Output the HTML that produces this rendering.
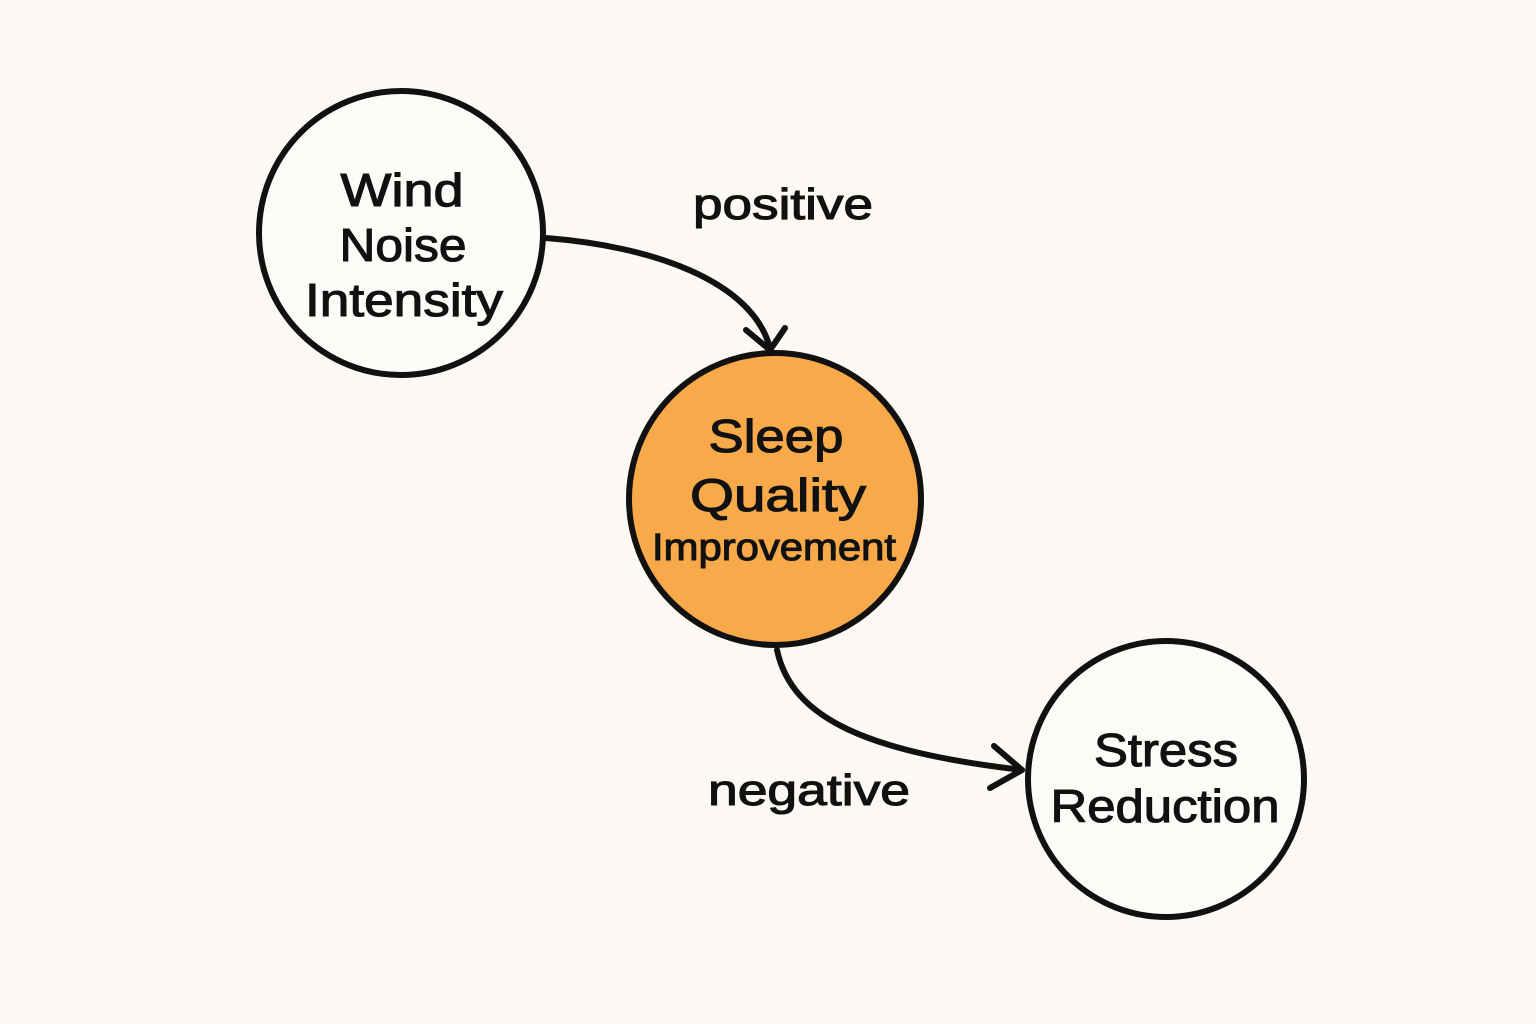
<!DOCTYPE html>
<html><head><meta charset="utf-8"><style>
html,body{margin:0;padding:0;background:#fcf9f4;}
svg{display:block}
text{font-family:"Liberation Sans",sans-serif;fill:#111;stroke:#111;stroke-width:1.1;text-anchor:middle;}
</style></head><body>
<svg width="1536" height="1024" viewBox="0 0 1536 1024">
<rect width="1536" height="1024" fill="#fcf9f4"/>
<g fill="none" stroke="#111" stroke-width="6" stroke-linecap="round" stroke-linejoin="round">
<circle cx="401" cy="233" r="142" fill="#fdfbf7"/>
<circle cx="775" cy="499" r="146" fill="#f8a94a"/>
<circle cx="1166" cy="779" r="138" fill="#fdfbf7"/>
<path d="M546,238 C650,246 752,280 770,348"/>
<path d="M746,330 L770,350 L785,328"/>
<path d="M777,650 C792,720 870,752 1022,770"/>
<path d="M994,746 L1022,770 L990,788"/>
</g>
<g font-size="46" lengthAdjust="spacingAndGlyphs">
<text x="402" y="206" textLength="123" lengthAdjust="spacingAndGlyphs">Wind</text>
<text x="403" y="261" textLength="127" lengthAdjust="spacingAndGlyphs">Noise</text>
<text x="404" y="316" textLength="198" lengthAdjust="spacingAndGlyphs">Intensity</text>
<text x="776" y="452" textLength="135" lengthAdjust="spacingAndGlyphs">Sleep</text>
<text x="778" y="511" textLength="176" lengthAdjust="spacingAndGlyphs">Quality</text>
<text x="1166" y="766" textLength="144" lengthAdjust="spacingAndGlyphs">Stress</text>
<text x="1165" y="822" textLength="229" lengthAdjust="spacingAndGlyphs">Reduction</text>
<text x="783" y="219" font-size="44" textLength="180" lengthAdjust="spacingAndGlyphs">positive</text>
<text x="809" y="805" font-size="44" textLength="202" lengthAdjust="spacingAndGlyphs">negative</text>
</g>
<text x="774" y="560" font-size="38" textLength="244" lengthAdjust="spacingAndGlyphs">Improvement</text>
</svg>
</body></html>
